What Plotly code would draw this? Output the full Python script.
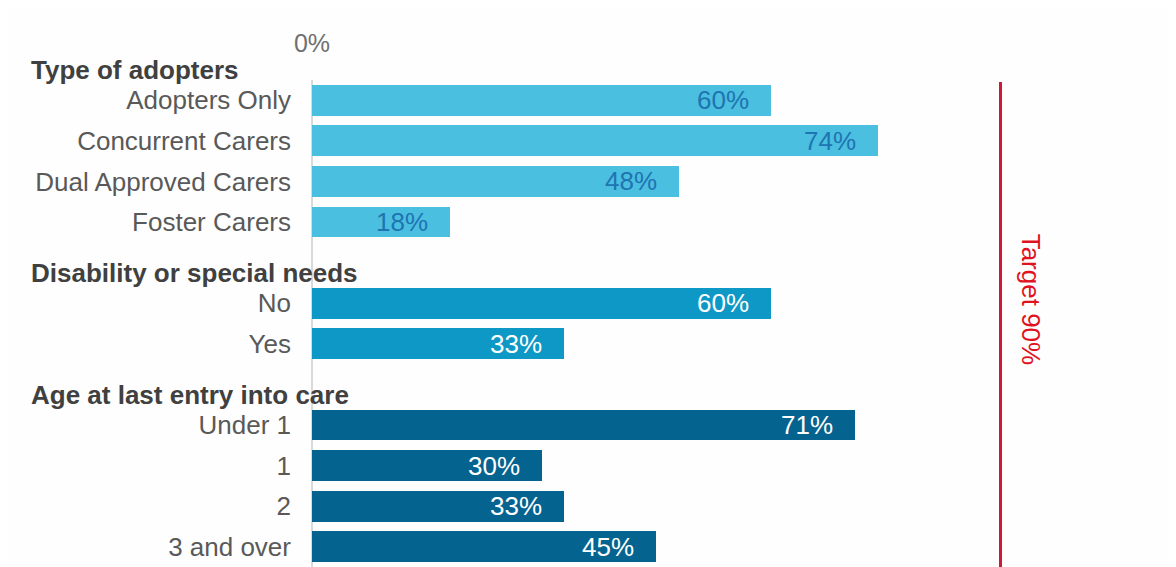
import plotly.graph_objects as go

# ---- data ----
group_titles = ["Type of adopters", "Disability or special needs", "Age at last entry into care"]
type_labels = ["Adopters Only", "Concurrent Carers", "Dual Approved Carers", "Foster Carers"]
type_values = [60, 74, 48, 18]
disab_labels = ["No", "Yes"]
disab_values = [60, 33]
age_labels = ["Under 1", "1", "2", "3 and over"]
age_values = [71, 30, 33, 45]
target_value = 90
target_label = "Target 90%"
zero_label = "0%"

groups = [
    (type_labels, type_values, "#4BBFE0", "#1F74B2"),
    (disab_labels, disab_values, "#0E98C6", "#FFFFFF"),
    (age_labels, age_values, "#04638F", "#FFFFFF"),
]

Y_TOP, Y_BOTTOM = -0.5, 11.5
n_span = Y_BOTTOM - Y_TOP


def to_paper(r):
    return (Y_BOTTOM - r) / n_span


fig = go.Figure()
annotations = []
tickvals, ticktext = [], []
row = 0
for gi, (labels, values, bar_col, txt_col) in enumerate(groups):
    rows = list(range(row, row + len(labels)))
    fig.add_trace(go.Bar(
        x=values, y=rows, orientation="h", width=0.76,
        marker=dict(color=bar_col, line=dict(width=0)),
        hoverinfo="skip", showlegend=False,
    ))
    for r, v in zip(rows, values):
        annotations.append(dict(
            x=v, y=r, xref="x", yref="y", text=f"{v}%", showarrow=False,
            xanchor="right", xshift=-20,
            font=dict(family="Liberation Sans, Arial", size=26, color=txt_col),
        ))
    annotations.append(dict(
        x=-0.3697, y=to_paper(row - 0.75), xref="paper", yref="paper",
        text=f"<b>{group_titles[gi]}</b>",
        showarrow=False, xanchor="left", yanchor="middle",
        font=dict(family="Liberation Sans, Arial", size=26, color="#404040"),
    ))
    tickvals += rows
    ticktext += labels
    row += len(labels) + 1

annotations.append(dict(
    x=target_value, y=0.55, xref="x", yref="paper", text=target_label, showarrow=False,
    textangle=90, xshift=30,
    font=dict(family="Liberation Sans, Arial", size=26, color="#E0121F"),
))

fig.add_shape(type="line", xref="x", yref="paper", x0=target_value, x1=target_value,
              y0=0, y1=0.996, line=dict(color="#D2163A", width=3))

fig.update_layout(
    width=1168, height=559,
    margin=dict(l=304, r=99, t=72, b=0),
    paper_bgcolor="#FEFEFE", plot_bgcolor="#FEFEFE",
    annotations=annotations,
    bargap=0,
    xaxis=dict(range=[0, 100], side="top", tickvals=[0], ticktext=[zero_label],
               showgrid=False, zeroline=True, zerolinecolor="#D9D9D9", zerolinewidth=2,
               showline=False, ticks="", ticklabelstandoff=22, automargin=False,
               tickfont=dict(family="Liberation Sans, Arial", size=25, color="#707070"),
               fixedrange=True),
    yaxis=dict(range=[Y_BOTTOM, Y_TOP], tickvals=tickvals, ticktext=ticktext,
               showgrid=False, zeroline=False, showline=False, ticks="",
               ticklabelstandoff=20, automargin=False,
               tickfont=dict(family="Liberation Sans, Arial", size=26, color="#595959"),
               fixedrange=True),
)

fig.write_html("out.html")
